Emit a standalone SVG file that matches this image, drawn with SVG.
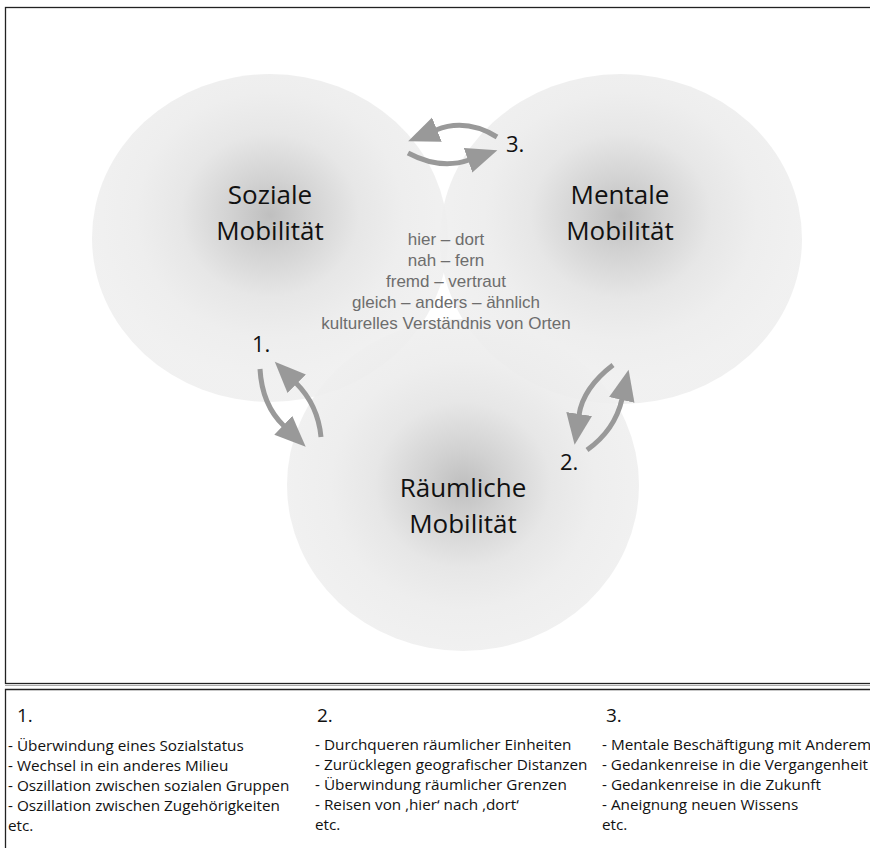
<svg xmlns="http://www.w3.org/2000/svg" width="870" height="848" viewBox="0 0 870 848">
<defs>
<radialGradient id="gTop" cx="0.5" cy="0.43" r="0.5" fx="0.5" fy="0.43">
<stop offset="0" stop-color="#b8b8b8"/>
<stop offset="0.22" stop-color="#cdcdcd"/>
<stop offset="0.5" stop-color="#e4e4e4"/>
<stop offset="0.75" stop-color="#ececec"/>
<stop offset="1" stop-color="#efefef"/>
</radialGradient>
<radialGradient id="gBot" cx="0.5" cy="0.5" r="0.5" fx="0.5" fy="0.5">
<stop offset="0" stop-color="#b8b8b8"/>
<stop offset="0.22" stop-color="#cdcdcd"/>
<stop offset="0.5" stop-color="#e4e4e4"/>
<stop offset="0.75" stop-color="#ececec"/>
<stop offset="1" stop-color="#efefef"/>
</radialGradient>
<marker id="head" markerUnits="userSpaceOnUse" markerWidth="32" markerHeight="28" refX="1" refY="13" orient="auto">
<path d="M0,0 L31,13 L0,26 Z" fill="#999"/>
</marker>
<style>
.circle{opacity:0.9}
.title{font-family:"Open Sans","Noto Sans",sans-serif;font-size:26px;fill:#111;text-anchor:middle}
.num{font-family:"Open Sans","Noto Sans",sans-serif;font-size:22px;fill:#111}
.mid{font-family:"Liberation Sans",Arial,sans-serif;font-size:17px;fill:#6d6d6d;text-anchor:middle}
.leg{font-family:"Open Sans","Noto Sans",sans-serif;font-size:15.3px;fill:#111}
.legnum{font-family:"Open Sans","Noto Sans",sans-serif;font-size:19px;fill:#111}
.arr{fill:none;stroke:#999;stroke-width:5;marker-end:url(#head)}
.frame{fill:none;stroke:#222;stroke-width:1.3}
</style>
</defs>
<rect width="870" height="848" fill="#fff"/>

<!-- frames -->
<rect class="frame" x="5.5" y="7.5" width="880" height="676"/>
<line x1="5" y1="685.5" x2="870" y2="685.5" stroke="#aaa" stroke-width="1"/>
<path class="frame" d="M5.5,860 L5.5,689.5 L880,689.5"/>

<g id="node-soziale">
<ellipse class="circle" cx="270" cy="238" rx="178" ry="164" fill="url(#gTop)"/>
<text class="title" x="270" y="204">Soziale</text>
<text class="title" x="270" y="240">Mobilität</text>
</g>
<g id="node-mentale">
<ellipse class="circle" cx="621" cy="239" rx="181" ry="165" fill="url(#gTop)"/>
<text class="title" x="620" y="204">Mentale</text>
<text class="title" x="620" y="240">Mobilität</text>
</g>
<g id="node-raeumliche">
<ellipse class="circle" cx="463" cy="485" rx="176" ry="166" fill="url(#gBot)"/>
<text class="title" x="463" y="497">Räumliche</text>
<text class="title" x="463" y="533">Mobilität</text>
</g>

<g id="center-text">
<text class="mid" x="446" y="245">hier – dort</text>
<text class="mid" x="446" y="266">nah – fern</text>
<text class="mid" x="446" y="287">fremd – vertraut</text>
<text class="mid" x="446" y="308">gleich – anders – ähnlich</text>
<text class="mid" x="446" y="329">kulturelles Verständnis von Orten</text>
</g>

<g id="connectors">
<path class="arr" d="M497,137 Q466,118 436,130"/>
<path class="arr" d="M408,153 Q440,170 469,160"/>
<path class="arr" d="M260,369 Q262,405 284,426"/>
<path class="arr" d="M321,437 Q318,405 296,383"/>
<path class="arr" d="M613,365 Q583,388 579,415"/>
<path class="arr" d="M587,450 Q615,430 622,399"/>
</g>

<g id="labels">
<text class="num" x="252" y="352">1.</text>
<text class="num" x="560" y="470">2.</text>
<text class="num" x="506" y="152">3.</text>
</g>

<g id="legend">
<text class="legnum" x="17" y="722">1.</text>
<text class="leg" x="8" y="751">- Überwindung eines Sozialstatus</text>
<text class="leg" x="8" y="771">- Wechsel in ein anderes Milieu</text>
<text class="leg" x="8" y="791">- Oszillation zwischen sozialen Gruppen</text>
<text class="leg" x="8" y="811">- Oszillation zwischen Zugehörigkeiten</text>
<text class="leg" x="8" y="831">etc.</text>

<text class="legnum" x="317" y="722">2.</text>
<text class="leg" x="315" y="750">- Durchqueren räumlicher Einheiten</text>
<text class="leg" x="315" y="770">- Zurücklegen geografischer Distanzen</text>
<text class="leg" x="315" y="790">- Überwindung räumlicher Grenzen</text>
<text class="leg" x="315" y="810">- Reisen von ‚hier‘ nach ‚dort‘</text>
<text class="leg" x="315" y="830">etc.</text>

<text class="legnum" x="606" y="722">3.</text>
<text class="leg" x="602" y="750">- Mentale Beschäftigung mit Anderem</text>
<text class="leg" x="602" y="770" textLength="266" lengthAdjust="spacingAndGlyphs">- Gedankenreise in die Vergangenheit</text>
<text class="leg" x="602" y="790">- Gedankenreise in die Zukunft</text>
<text class="leg" x="602" y="810">- Aneignung neuen Wissens</text>
<text class="leg" x="602" y="830">etc.</text>
</g>
</svg>
